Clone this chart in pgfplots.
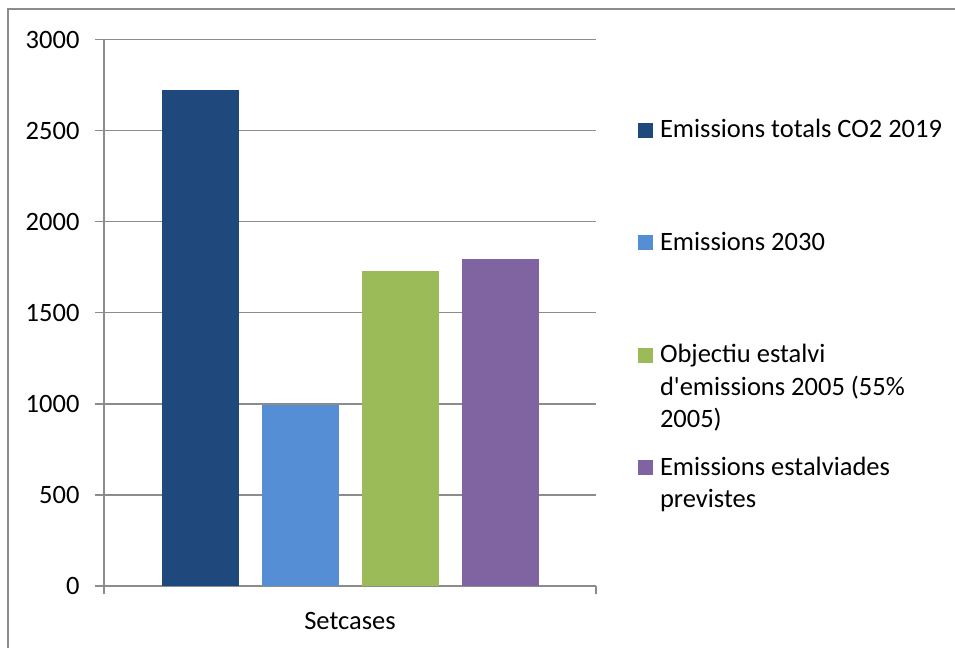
\documentclass[border=0pt]{standalone}
\usepackage{fontspec}
\newfontfamily\carlito{Carlito}
\usepackage{pgfplots}
\pgfplotsset{compat=1.18}
\definecolor{c1}{HTML}{1F497D}
\definecolor{c2}{HTML}{558ED5}
\definecolor{c3}{HTML}{9BBB59}
\definecolor{c4}{HTML}{8064A2}
\definecolor{axgray}{HTML}{8C8C8C}
\newcommand{\cf}{\carlito\fontsize{13.25}{16.25}\selectfont}
\begin{document}
\begin{tikzpicture}[x=1pt,y=1pt]
\path[use as bounding box] (0,0) rectangle (477.5,324);
\draw[axgray, line width=0.6pt] (4,-5) -- (4,319.5) -- (485,319.5);
\begin{axis}[
 at={(52pt,31pt)}, anchor=south west,
 scale only axis, width=246pt, height=273.25pt,
 ymin=0, ymax=3000, ytick={0,500,...,3000},
 xmin=-0.5, xmax=0.5,
 xtick={-0.5,0.5}, xticklabels={,},
 extra x ticks={0}, extra x tick labels={Setcases},
 extra x tick style={major tick length=0pt, xticklabel style={yshift=-9.5pt}},
 axis x line*=bottom, axis y line*=left,
 axis line style={axgray, line width=0.75pt, -},
 ymajorgrids, major grid style={axgray, line width=0.75pt},
 tick style={axgray, line width=0.75pt},
 tick align=outside,
 major tick length=4.25pt,
 /pgf/number format/assume math mode=true,
 /pgf/number format/1000 sep={},
 ticklabel style={font=\cf, text=black},
 yticklabel style={xshift=-4.5pt},
 ybar=11.5pt, bar width=38.5pt,
 legend image code/.code={\fill[#1] (0pt,0pt) rectangle (7.5pt,7.5pt);},
 legend style={draw=none, fill=none, at={(1.08537,0.8637)}, anchor=north west,
   inner sep=0pt, outer sep=0pt, row sep=0pt, column sep=3.5pt,
   cells={anchor=base west},
   nodes={inner sep=0pt, outer sep=0pt, text height=12pt, text depth=44.25pt, font=\cf}},
]
\addplot[fill=c1, draw=none] coordinates {(0,2725)};
\addlegendentry{Emissions totals CO2 2019}
\addplot[fill=c2, draw=none] coordinates {(0,995)};
\addlegendentry{Emissions 2030}
\addplot[fill=c3, draw=none] coordinates {(0,1730)};
\addlegendentry{\parbox[t]{150pt}{Objectiu estalvi\\d'emissions 2005 (55\%\\2005)}}
\addplot[fill=c4, draw=none] coordinates {(0,1797)};
\addlegendentry{\parbox[t]{150pt}{Emissions estalviades\\previstes}}
\end{axis}
\end{tikzpicture}
\end{document}
